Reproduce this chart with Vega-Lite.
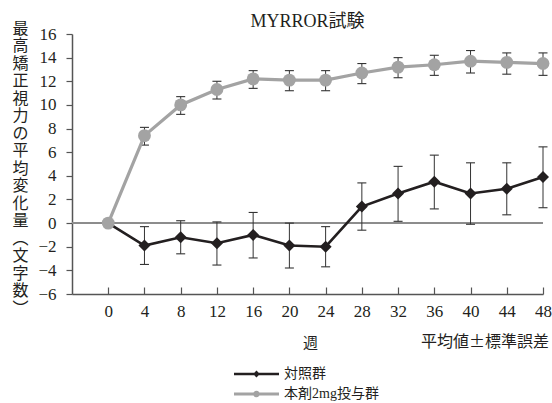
{
  "$schema": "https://vega.github.io/schema/vega-lite/v6.json",
  "autosize": {"type": "none"},
  "padding": {"left": 72, "top": 34, "right": 9, "bottom": 109},
  "width": 471,
  "height": 260,
  "background": "white",
  "title": {
    "text": "MYRROR試験",
    "font": "Liberation Serif, Noto Sans CJK JP",
    "fontSize": 18,
    "fontWeight": "normal",
    "color": "#231f20",
    "anchor": "middle",
    "frame": "group",
    "offset": -11
  },
  "config": {
    "view": {"stroke": null},
    "axis": {"labelOverlap": false, "labelFont": "Liberation Serif, Noto Sans CJK JP", "labelFontSize": 17, "labelColor": "#231f20", "grid": false}
  },
  "data": {
    "values": [
      {"week": 0, "group": "対照群", "mean": 0, "lo": null, "hi": null},
      {"week": 4, "group": "対照群", "mean": -1.9, "lo": -3.5, "hi": -0.3},
      {"week": 8, "group": "対照群", "mean": -1.2, "lo": -2.6, "hi": 0.2},
      {"week": 12, "group": "対照群", "mean": -1.7, "lo": -3.55, "hi": 0.1},
      {"week": 16, "group": "対照群", "mean": -1.0, "lo": -2.95, "hi": 0.9},
      {"week": 20, "group": "対照群", "mean": -1.9, "lo": -3.8, "hi": 0.0},
      {"week": 24, "group": "対照群", "mean": -2.0, "lo": -3.7, "hi": -0.3},
      {"week": 28, "group": "対照群", "mean": 1.4, "lo": -0.6, "hi": 3.4},
      {"week": 32, "group": "対照群", "mean": 2.5, "lo": 0.15, "hi": 4.8},
      {"week": 36, "group": "対照群", "mean": 3.5, "lo": 1.2, "hi": 5.75},
      {"week": 40, "group": "対照群", "mean": 2.5, "lo": -0.1, "hi": 5.1},
      {"week": 44, "group": "対照群", "mean": 2.9, "lo": 0.7, "hi": 5.1},
      {"week": 48, "group": "対照群", "mean": 3.9, "lo": 1.3, "hi": 6.45},
      {"week": 0, "group": "本剤2mg投与群", "mean": 0, "lo": null, "hi": null},
      {"week": 4, "group": "本剤2mg投与群", "mean": 7.4, "lo": 6.6, "hi": 8.1},
      {"week": 8, "group": "本剤2mg投与群", "mean": 10.0, "lo": 9.2, "hi": 10.7},
      {"week": 12, "group": "本剤2mg投与群", "mean": 11.3, "lo": 10.5, "hi": 12.0},
      {"week": 16, "group": "本剤2mg投与群", "mean": 12.2, "lo": 11.4, "hi": 12.9},
      {"week": 20, "group": "本剤2mg投与群", "mean": 12.1, "lo": 11.2, "hi": 12.9},
      {"week": 24, "group": "本剤2mg投与群", "mean": 12.1, "lo": 11.2, "hi": 12.9},
      {"week": 28, "group": "本剤2mg投与群", "mean": 12.7, "lo": 11.8, "hi": 13.5},
      {"week": 32, "group": "本剤2mg投与群", "mean": 13.2, "lo": 12.3, "hi": 14.0},
      {"week": 36, "group": "本剤2mg投与群", "mean": 13.4, "lo": 12.5, "hi": 14.2},
      {"week": 40, "group": "本剤2mg投与群", "mean": 13.7, "lo": 12.7, "hi": 14.6},
      {"week": 44, "group": "本剤2mg投与群", "mean": 13.6, "lo": 12.6, "hi": 14.4},
      {"week": 48, "group": "本剤2mg投与群", "mean": 13.5, "lo": 12.5, "hi": 14.4}
    ]
  },
  "layer": [
    {
      "mark": {"type": "rule", "color": "#8c8c8c", "strokeWidth": 1},
      "encoding": {
        "y": {"datum": 0, "type": "quantitative", "scale": {"domain": [-6, 16], "nice": false, "zero": false},
          "axis": {"values": [-6, -4, -2, 0, 2, 4, 6, 8, 10, 12, 14, 16], "grid": false, "labelOverlap": false, "labelFont": "Liberation Serif, Noto Sans CJK JP", "labelFontSize": 17, "labelColor": "#231f20", "domainColor": "#555555", "domainWidth": 1.5, "tickColor": "#555555", "tickWidth": 1.2, "tickSize": 6, "labelPadding": 10, "labelFlush": false, "title": ["最", "高", "矯", "正", "視", "力", "の", "平", "均", "変", "化", "量", "︵", "文", "字", "数", "︶"], "titleFont": "Noto Sans CJK JP", "titleFontSize": 16, "titleFontWeight": "normal", "titleColor": "#231f20", "titleLineHeight": 17.5, "titleAngle": 0, "titleAlign": "center", "titleBaseline": "top", "titleX": -52, "titleY": -14}}
      }
    },
    {
      "mark": {"type": "rule", "color": "#333333", "strokeWidth": 1},
      "encoding": {
        "x": {"field": "week", "type": "quantitative", "scale": {"domain": [-4, 48], "nice": false, "zero": false},
          "axis": {"values": [0, 4, 8, 12, 16, 20, 24, 28, 32, 36, 40, 44, 48], "grid": false, "labelOverlap": false, "labelFont": "Liberation Serif, Noto Sans CJK JP", "labelFontSize": 17, "labelColor": "#231f20", "domainColor": "#555555", "domainWidth": 1.5, "tickColor": "#555555", "tickWidth": 1.2, "tickSize": -7, "labelPadding": 16, "labelFlush": false, "title": "週", "titleFont": "Noto Sans CJK JP", "titleFontSize": 15, "titleFontWeight": "normal", "titleColor": "#231f20", "titleX": 238, "titleY": 48, "titleAlign": "center", "titleBaseline": "middle"}},
        "y": {"field": "lo", "type": "quantitative", "scale": {"domain": [-6, 16], "nice": false, "zero": false},
          "axis": {"values": [-6, -4, -2, 0, 2, 4, 6, 8, 10, 12, 14, 16], "grid": false, "labelOverlap": false, "labelFont": "Liberation Serif, Noto Sans CJK JP", "labelFontSize": 17, "labelColor": "#231f20", "domainColor": "#555555", "domainWidth": 1.5, "tickColor": "#555555", "tickWidth": 1.2, "tickSize": 6, "labelPadding": 10, "labelFlush": false, "title": ["最", "高", "矯", "正", "視", "力", "の", "平", "均", "変", "化", "量", "︵", "文", "字", "数", "︶"], "titleFont": "Noto Sans CJK JP", "titleFontSize": 16, "titleFontWeight": "normal", "titleColor": "#231f20", "titleLineHeight": 17.5, "titleAngle": 0, "titleAlign": "center", "titleBaseline": "top", "titleX": -52, "titleY": -14}},
        "y2": {"field": "hi"}
      }
    },
    {
      "mark": {"type": "tick", "color": "#333333", "thickness": 1.1, "size": 9, "orient": "horizontal", "opacity": 1},
      "encoding": {
        "x": {"field": "week", "type": "quantitative", "scale": {"domain": [-4, 48], "nice": false, "zero": false},
          "axis": {"values": [0, 4, 8, 12, 16, 20, 24, 28, 32, 36, 40, 44, 48], "grid": false, "labelOverlap": false, "labelFont": "Liberation Serif, Noto Sans CJK JP", "labelFontSize": 17, "labelColor": "#231f20", "domainColor": "#555555", "domainWidth": 1.5, "tickColor": "#555555", "tickWidth": 1.2, "tickSize": -7, "labelPadding": 16, "labelFlush": false, "title": "週", "titleFont": "Noto Sans CJK JP", "titleFontSize": 15, "titleFontWeight": "normal", "titleColor": "#231f20", "titleX": 238, "titleY": 48, "titleAlign": "center", "titleBaseline": "middle"}},
        "y": {"field": "lo", "type": "quantitative", "scale": {"domain": [-6, 16], "nice": false, "zero": false},
          "axis": {"values": [-6, -4, -2, 0, 2, 4, 6, 8, 10, 12, 14, 16], "grid": false, "labelOverlap": false, "labelFont": "Liberation Serif, Noto Sans CJK JP", "labelFontSize": 17, "labelColor": "#231f20", "domainColor": "#555555", "domainWidth": 1.5, "tickColor": "#555555", "tickWidth": 1.2, "tickSize": 6, "labelPadding": 10, "labelFlush": false, "title": ["最", "高", "矯", "正", "視", "力", "の", "平", "均", "変", "化", "量", "︵", "文", "字", "数", "︶"], "titleFont": "Noto Sans CJK JP", "titleFontSize": 16, "titleFontWeight": "normal", "titleColor": "#231f20", "titleLineHeight": 17.5, "titleAngle": 0, "titleAlign": "center", "titleBaseline": "top", "titleX": -52, "titleY": -14}}
      }
    },
    {
      "mark": {"type": "tick", "color": "#333333", "thickness": 1.1, "size": 9, "orient": "horizontal", "opacity": 1},
      "encoding": {
        "x": {"field": "week", "type": "quantitative", "scale": {"domain": [-4, 48], "nice": false, "zero": false},
          "axis": {"values": [0, 4, 8, 12, 16, 20, 24, 28, 32, 36, 40, 44, 48], "grid": false, "labelOverlap": false, "labelFont": "Liberation Serif, Noto Sans CJK JP", "labelFontSize": 17, "labelColor": "#231f20", "domainColor": "#555555", "domainWidth": 1.5, "tickColor": "#555555", "tickWidth": 1.2, "tickSize": -7, "labelPadding": 16, "labelFlush": false, "title": "週", "titleFont": "Noto Sans CJK JP", "titleFontSize": 15, "titleFontWeight": "normal", "titleColor": "#231f20", "titleX": 238, "titleY": 48, "titleAlign": "center", "titleBaseline": "middle"}},
        "y": {"field": "hi", "type": "quantitative", "scale": {"domain": [-6, 16], "nice": false, "zero": false},
          "axis": {"values": [-6, -4, -2, 0, 2, 4, 6, 8, 10, 12, 14, 16], "grid": false, "labelOverlap": false, "labelFont": "Liberation Serif, Noto Sans CJK JP", "labelFontSize": 17, "labelColor": "#231f20", "domainColor": "#555555", "domainWidth": 1.5, "tickColor": "#555555", "tickWidth": 1.2, "tickSize": 6, "labelPadding": 10, "labelFlush": false, "title": ["最", "高", "矯", "正", "視", "力", "の", "平", "均", "変", "化", "量", "︵", "文", "字", "数", "︶"], "titleFont": "Noto Sans CJK JP", "titleFontSize": 16, "titleFontWeight": "normal", "titleColor": "#231f20", "titleLineHeight": 17.5, "titleAngle": 0, "titleAlign": "center", "titleBaseline": "top", "titleX": -52, "titleY": -14}}
      }
    },
    {
      "transform": [{"filter": "datum.group === '対照群'"}],
      "mark": {"type": "line", "strokeWidth": 2.6, "color": "#231f20"},
      "encoding": {
        "x": {"field": "week", "type": "quantitative", "scale": {"domain": [-4, 48], "nice": false, "zero": false},
          "axis": {"values": [0, 4, 8, 12, 16, 20, 24, 28, 32, 36, 40, 44, 48], "grid": false, "labelOverlap": false, "labelFont": "Liberation Serif, Noto Sans CJK JP", "labelFontSize": 17, "labelColor": "#231f20", "domainColor": "#555555", "domainWidth": 1.5, "tickColor": "#555555", "tickWidth": 1.2, "tickSize": -7, "labelPadding": 16, "labelFlush": false, "title": "週", "titleFont": "Noto Sans CJK JP", "titleFontSize": 15, "titleFontWeight": "normal", "titleColor": "#231f20", "titleX": 238, "titleY": 48, "titleAlign": "center", "titleBaseline": "middle"}},
        "y": {"field": "mean", "type": "quantitative", "scale": {"domain": [-6, 16], "nice": false, "zero": false},
          "axis": {"values": [-6, -4, -2, 0, 2, 4, 6, 8, 10, 12, 14, 16], "grid": false, "labelOverlap": false, "labelFont": "Liberation Serif, Noto Sans CJK JP", "labelFontSize": 17, "labelColor": "#231f20", "domainColor": "#555555", "domainWidth": 1.5, "tickColor": "#555555", "tickWidth": 1.2, "tickSize": 6, "labelPadding": 10, "labelFlush": false, "title": ["最", "高", "矯", "正", "視", "力", "の", "平", "均", "変", "化", "量", "︵", "文", "字", "数", "︶"], "titleFont": "Noto Sans CJK JP", "titleFontSize": 16, "titleFontWeight": "normal", "titleColor": "#231f20", "titleLineHeight": 17.5, "titleAngle": 0, "titleAlign": "center", "titleBaseline": "top", "titleX": -52, "titleY": -14}}
      }
    },
    {
      "transform": [{"filter": "datum.group === '本剤2mg投与群'"}],
      "mark": {"type": "line", "strokeWidth": 3.2, "color": "#a3a3a3"},
      "encoding": {
        "x": {"field": "week", "type": "quantitative", "scale": {"domain": [-4, 48], "nice": false, "zero": false},
          "axis": {"values": [0, 4, 8, 12, 16, 20, 24, 28, 32, 36, 40, 44, 48], "grid": false, "labelOverlap": false, "labelFont": "Liberation Serif, Noto Sans CJK JP", "labelFontSize": 17, "labelColor": "#231f20", "domainColor": "#555555", "domainWidth": 1.5, "tickColor": "#555555", "tickWidth": 1.2, "tickSize": -7, "labelPadding": 16, "labelFlush": false, "title": "週", "titleFont": "Noto Sans CJK JP", "titleFontSize": 15, "titleFontWeight": "normal", "titleColor": "#231f20", "titleX": 238, "titleY": 48, "titleAlign": "center", "titleBaseline": "middle"}},
        "y": {"field": "mean", "type": "quantitative", "scale": {"domain": [-6, 16], "nice": false, "zero": false},
          "axis": {"values": [-6, -4, -2, 0, 2, 4, 6, 8, 10, 12, 14, 16], "grid": false, "labelOverlap": false, "labelFont": "Liberation Serif, Noto Sans CJK JP", "labelFontSize": 17, "labelColor": "#231f20", "domainColor": "#555555", "domainWidth": 1.5, "tickColor": "#555555", "tickWidth": 1.2, "tickSize": 6, "labelPadding": 10, "labelFlush": false, "title": ["最", "高", "矯", "正", "視", "力", "の", "平", "均", "変", "化", "量", "︵", "文", "字", "数", "︶"], "titleFont": "Noto Sans CJK JP", "titleFontSize": 16, "titleFontWeight": "normal", "titleColor": "#231f20", "titleLineHeight": 17.5, "titleAngle": 0, "titleAlign": "center", "titleBaseline": "top", "titleX": -52, "titleY": -14}}
      }
    },
    {
      "transform": [{"filter": "datum.group === '対照群'"}],
      "mark": {"type": "point", "shape": "diamond", "filled": true, "color": "#231f20", "opacity": 1, "strokeWidth": 0, "size": 144},
      "encoding": {
        "x": {"field": "week", "type": "quantitative", "scale": {"domain": [-4, 48], "nice": false, "zero": false},
          "axis": {"values": [0, 4, 8, 12, 16, 20, 24, 28, 32, 36, 40, 44, 48], "grid": false, "labelOverlap": false, "labelFont": "Liberation Serif, Noto Sans CJK JP", "labelFontSize": 17, "labelColor": "#231f20", "domainColor": "#555555", "domainWidth": 1.5, "tickColor": "#555555", "tickWidth": 1.2, "tickSize": -7, "labelPadding": 16, "labelFlush": false, "title": "週", "titleFont": "Noto Sans CJK JP", "titleFontSize": 15, "titleFontWeight": "normal", "titleColor": "#231f20", "titleX": 238, "titleY": 48, "titleAlign": "center", "titleBaseline": "middle"}},
        "y": {"field": "mean", "type": "quantitative", "scale": {"domain": [-6, 16], "nice": false, "zero": false},
          "axis": {"values": [-6, -4, -2, 0, 2, 4, 6, 8, 10, 12, 14, 16], "grid": false, "labelOverlap": false, "labelFont": "Liberation Serif, Noto Sans CJK JP", "labelFontSize": 17, "labelColor": "#231f20", "domainColor": "#555555", "domainWidth": 1.5, "tickColor": "#555555", "tickWidth": 1.2, "tickSize": 6, "labelPadding": 10, "labelFlush": false, "title": ["最", "高", "矯", "正", "視", "力", "の", "平", "均", "変", "化", "量", "︵", "文", "字", "数", "︶"], "titleFont": "Noto Sans CJK JP", "titleFontSize": 16, "titleFontWeight": "normal", "titleColor": "#231f20", "titleLineHeight": 17.5, "titleAngle": 0, "titleAlign": "center", "titleBaseline": "top", "titleX": -52, "titleY": -14}}
      }
    },
    {
      "transform": [{"filter": "datum.group === '本剤2mg投与群'"}],
      "mark": {"type": "point", "shape": "circle", "filled": true, "color": "#a3a3a3", "opacity": 1, "strokeWidth": 0, "size": 165},
      "encoding": {
        "x": {"field": "week", "type": "quantitative", "scale": {"domain": [-4, 48], "nice": false, "zero": false},
          "axis": {"values": [0, 4, 8, 12, 16, 20, 24, 28, 32, 36, 40, 44, 48], "grid": false, "labelOverlap": false, "labelFont": "Liberation Serif, Noto Sans CJK JP", "labelFontSize": 17, "labelColor": "#231f20", "domainColor": "#555555", "domainWidth": 1.5, "tickColor": "#555555", "tickWidth": 1.2, "tickSize": -7, "labelPadding": 16, "labelFlush": false, "title": "週", "titleFont": "Noto Sans CJK JP", "titleFontSize": 15, "titleFontWeight": "normal", "titleColor": "#231f20", "titleX": 238, "titleY": 48, "titleAlign": "center", "titleBaseline": "middle"}},
        "y": {"field": "mean", "type": "quantitative", "scale": {"domain": [-6, 16], "nice": false, "zero": false},
          "axis": {"values": [-6, -4, -2, 0, 2, 4, 6, 8, 10, 12, 14, 16], "grid": false, "labelOverlap": false, "labelFont": "Liberation Serif, Noto Sans CJK JP", "labelFontSize": 17, "labelColor": "#231f20", "domainColor": "#555555", "domainWidth": 1.5, "tickColor": "#555555", "tickWidth": 1.2, "tickSize": 6, "labelPadding": 10, "labelFlush": false, "title": ["最", "高", "矯", "正", "視", "力", "の", "平", "均", "変", "化", "量", "︵", "文", "字", "数", "︶"], "titleFont": "Noto Sans CJK JP", "titleFontSize": 16, "titleFontWeight": "normal", "titleColor": "#231f20", "titleLineHeight": 17.5, "titleAngle": 0, "titleAlign": "center", "titleBaseline": "top", "titleX": -52, "titleY": -14}}
      }
    },
    {
      "data": {"values": [{"note": "平均値±標準誤差"}]},
      "mark": {"type": "text", "align": "right", "baseline": "middle", "dx": 6, "font": "Noto Sans CJK JP", "fontSize": 16, "color": "#231f20"},
      "encoding": {
        "x": {"datum": 48, "type": "quantitative", "scale": {"domain": [-4, 48], "nice": false, "zero": false},
          "axis": {"values": [0, 4, 8, 12, 16, 20, 24, 28, 32, 36, 40, 44, 48], "grid": false, "labelOverlap": false, "labelFont": "Liberation Serif, Noto Sans CJK JP", "labelFontSize": 17, "labelColor": "#231f20", "domainColor": "#555555", "domainWidth": 1.5, "tickColor": "#555555", "tickWidth": 1.2, "tickSize": -7, "labelPadding": 16, "labelFlush": false, "title": "週", "titleFont": "Noto Sans CJK JP", "titleFontSize": 15, "titleFontWeight": "normal", "titleColor": "#231f20", "titleX": 238, "titleY": 48, "titleAlign": "center", "titleBaseline": "middle"}},
        "y": {"datum": -10.1, "type": "quantitative", "scale": {"domain": [-6, 16], "nice": false, "zero": false},
          "axis": {"values": [-6, -4, -2, 0, 2, 4, 6, 8, 10, 12, 14, 16], "grid": false, "labelOverlap": false, "labelFont": "Liberation Serif, Noto Sans CJK JP", "labelFontSize": 17, "labelColor": "#231f20", "domainColor": "#555555", "domainWidth": 1.5, "tickColor": "#555555", "tickWidth": 1.2, "tickSize": 6, "labelPadding": 10, "labelFlush": false, "title": ["最", "高", "矯", "正", "視", "力", "の", "平", "均", "変", "化", "量", "︵", "文", "字", "数", "︶"], "titleFont": "Noto Sans CJK JP", "titleFontSize": 16, "titleFontWeight": "normal", "titleColor": "#231f20", "titleLineHeight": 17.5, "titleAngle": 0, "titleAlign": "center", "titleBaseline": "top", "titleX": -52, "titleY": -14}},
        "text": {"field": "note", "type": "nominal"}
      }
    },
    {
      "transform": [{"filter": "false"}],
      "mark": {"type": "point", "filled": true, "opacity": 1, "strokeWidth": 0},
      "encoding": {
        "color": {"field": "group", "type": "nominal", "scale": {"domain": ["対照群", "本剤2mg投与群"], "range": ["#231f20", "#a3a3a3"]},
          "legend": {"orient": "none", "legendX": 177.5, "legendY": 333, "title": null, "padding": 0, "symbolSize": 100, "symbolOpacity": 1, "symbolStrokeWidth": 0, "labelOffset": 20.5, "rowPadding": 6, "labelFont": "Liberation Serif, Noto Sans CJK JP", "labelFontSize": 14, "labelColor": "#231f20"}},
        "shape": {"field": "group", "type": "nominal",
          "scale": {"domain": ["対照群", "本剤2mg投与群"], "range": ["M-4.5,-0.26H4.5V0.26H-4.5ZM0,-0.68L0.68,0L0,0.68L-0.68,0Z", "M-4.5,-0.32H4.5V0.32H-4.5ZM0.66,0A0.66,0.66,0,1,1,-0.66,0A0.66,0.66,0,1,1,0.66,0Z"]},
          "legend": {"orient": "none", "legendX": 177.5, "legendY": 333, "title": null, "padding": 0, "symbolSize": 100, "symbolOpacity": 1, "symbolStrokeWidth": 0, "labelOffset": 20.5, "rowPadding": 6, "labelFont": "Liberation Serif, Noto Sans CJK JP", "labelFontSize": 14, "labelColor": "#231f20"}}
      }
    }
  ]
}
